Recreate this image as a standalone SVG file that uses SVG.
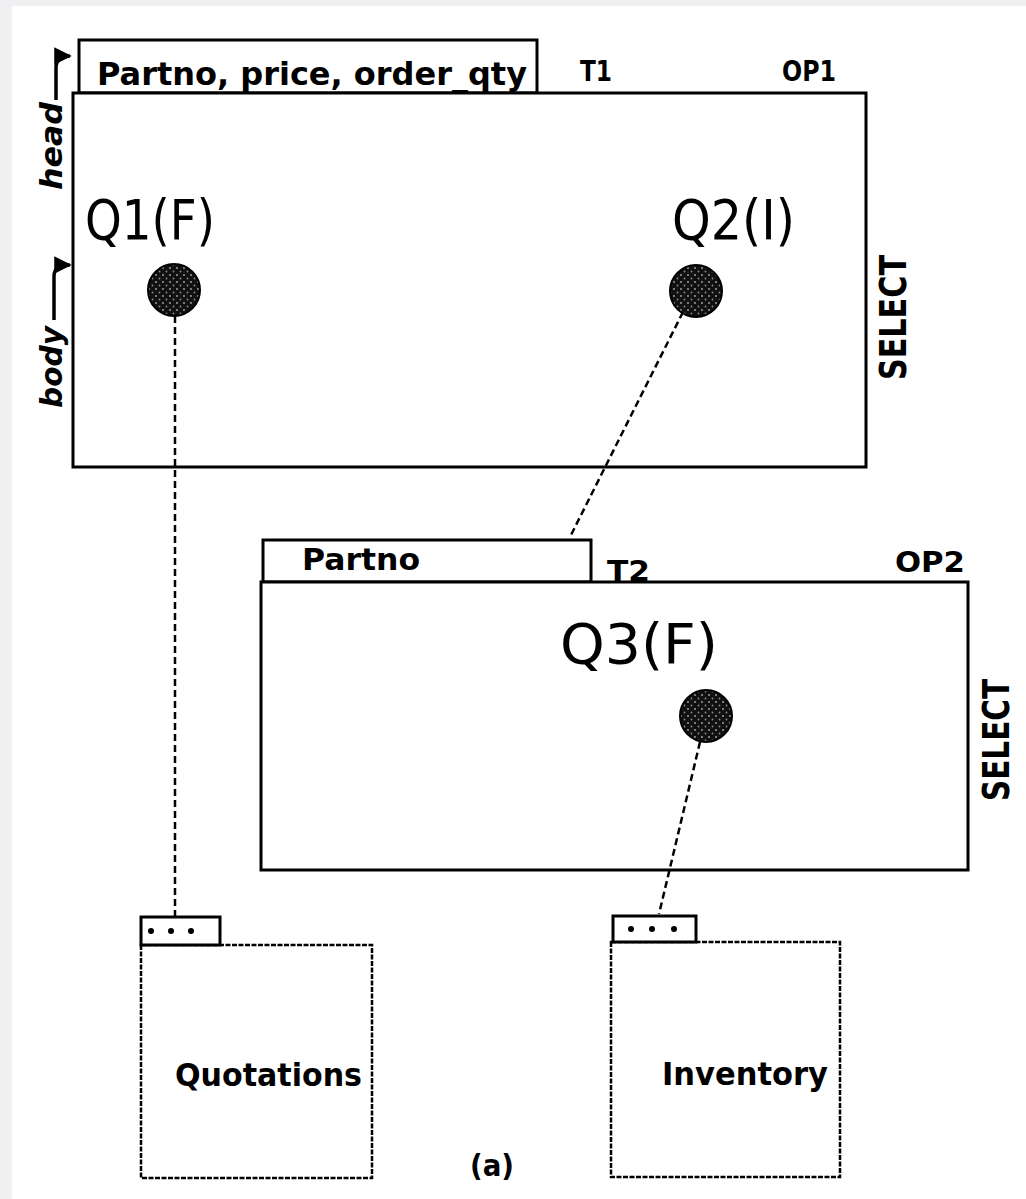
<svg xmlns="http://www.w3.org/2000/svg" width="1026" height="1199" viewBox="0 0 1026 1199">
<defs>
<pattern id="stip" width="7" height="7" patternUnits="userSpaceOnUse">
<rect width="7" height="7" fill="#111"/>
<circle cx="2" cy="2" r="0.9" fill="#aaa"/>
<circle cx="5.5" cy="5.5" r="0.9" fill="#888"/>
</pattern>
<marker id="ah" viewBox="0 0 10 10" refX="9" refY="5" markerWidth="5" markerHeight="5" orient="auto">
<path d="M0,0 L10,5 L0,10 Z" fill="#000"/>
</marker>
<style>
.box{fill:#fff;stroke:#000;stroke-width:3}
.rel{fill:#fff;stroke:#000;stroke-width:2.5;stroke-dasharray:5 1.5}
.t{font-family:"DejaVu Sans","Liberation Sans",sans-serif;fill:#000}
.lbl{font-size:29px;font-weight:600}
.q{font-size:55px}
.dot{fill:url(#stip);stroke:#000;stroke-width:2}
.dash{fill:none;stroke:#000;stroke-width:2.5;stroke-dasharray:7 4}
.arr{fill:none;stroke:#000;stroke-width:3.5}
</style>
</defs>
<rect x="0" y="0" width="1026" height="1199" fill="#f0f0f2"/>
<rect x="12" y="6" width="1014" height="1193" fill="#fff"/>

<g id="OP1">
<rect class="box" x="79" y="40" width="458" height="53"/>
<text class="t" x="97" y="85" font-size="32" font-weight="600" textLength="430" lengthAdjust="spacingAndGlyphs">Partno, price, order_qty</text>
<rect class="box" x="73" y="93" width="793" height="374"/>
<text class="t lbl" x="580" y="81" textLength="32" lengthAdjust="spacingAndGlyphs">T1</text>
<text class="t lbl" x="782" y="81" textLength="54" lengthAdjust="spacingAndGlyphs">OP1</text>
<text class="t" font-size="38" font-weight="600" transform="translate(906,380) rotate(-90)" textLength="125" lengthAdjust="spacingAndGlyphs">SELECT</text>
<text class="t" font-size="30" font-style="italic" font-weight="600" transform="translate(62,190) rotate(-90)" textLength="88" lengthAdjust="spacingAndGlyphs">head</text>
<text class="t" font-size="30" font-style="italic" font-weight="600" transform="translate(62,408) rotate(-90)" textLength="82" lengthAdjust="spacingAndGlyphs">body</text>
<path class="arr" d="M56,100 L56,68 Q56,56 70,56" marker-end="url(#ah)"/>
<path class="arr" d="M54,320 L54,276 Q54,265 70,265" marker-end="url(#ah)"/>
</g>

<g id="Q1">
<text class="t q" x="85" y="239" textLength="130" lengthAdjust="spacingAndGlyphs">Q1(F)</text>
<circle class="dot" cx="174" cy="290" r="26"/>
</g>

<g id="Q2">
<text class="t q" x="672" y="239" textLength="123" lengthAdjust="spacingAndGlyphs">Q2(I)</text>
<circle class="dot" cx="696" cy="291" r="26"/>
</g>

<g id="OP2">
<rect class="box" x="263" y="540" width="328" height="42"/>
<text class="t" x="302" y="570" font-size="31" font-weight="600" textLength="118" lengthAdjust="spacingAndGlyphs">Partno</text>
<rect class="box" x="261" y="582" width="707" height="288"/>
<text class="t lbl" x="607" y="581" textLength="43" lengthAdjust="spacingAndGlyphs">T2</text>
<text class="t lbl" x="895" y="572" textLength="70" lengthAdjust="spacingAndGlyphs">OP2</text>
<text class="t" font-size="38" font-weight="600" transform="translate(1009,801) rotate(-90)" textLength="122" lengthAdjust="spacingAndGlyphs">SELECT</text>
</g>

<g id="Q3">
<text class="t q" x="560" y="663" textLength="158" lengthAdjust="spacingAndGlyphs">Q3(F)</text>
<circle class="dot" cx="706" cy="716" r="26"/>
</g>

<g id="Quotations">
<rect class="rel" x="141" y="945" width="231" height="233"/>
<rect class="box" x="141" y="917" width="79" height="28"/>
<circle cx="151" cy="931" r="3" fill="#000"/>
<circle cx="171" cy="931" r="3" fill="#000"/>
<circle cx="191" cy="931" r="3" fill="#000"/>
<text class="t" x="175" y="1086" font-size="32" font-weight="600" textLength="187" lengthAdjust="spacingAndGlyphs">Quotations</text>
</g>

<g id="Inventory">
<rect class="rel" x="611" y="942" width="229" height="235"/>
<rect class="box" x="613" y="916" width="83" height="26"/>
<circle cx="631" cy="929" r="3" fill="#000"/>
<circle cx="652" cy="929" r="3" fill="#000"/>
<circle cx="674" cy="929" r="3" fill="#000"/>
<text class="t" x="662" y="1085" font-size="32" font-weight="600" textLength="166" lengthAdjust="spacingAndGlyphs">Inventory</text>
</g>

<g id="connectors">
<path class="dash" d="M175,316 L175,916"/>
<path class="dash" d="M683,312 L570,537"/>
<path class="dash" d="M700,742 L659,914"/>
</g>

<text class="t" x="470" y="1176" font-size="30" font-weight="600" textLength="44" lengthAdjust="spacingAndGlyphs">(a)</text>
</svg>
